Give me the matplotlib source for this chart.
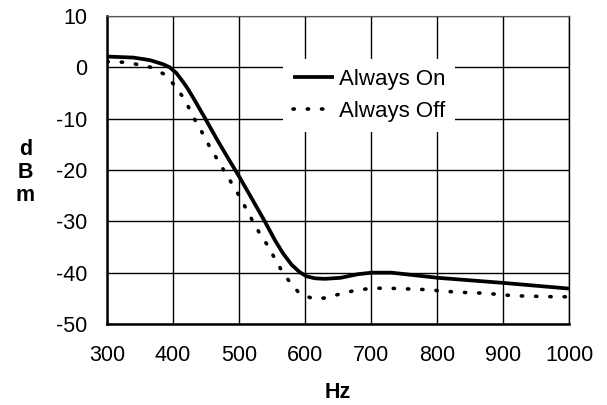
import matplotlib
matplotlib.use('Agg')
import matplotlib.pyplot as plt

# Hz / dBm
hz_on = [300, 340, 365, 385, 395, 405, 415, 422, 430, 448, 466, 482, 498,
         516, 539, 555, 567, 580, 592, 602, 615, 630, 654, 680, 701, 731,
         801, 901, 1000]
db_on = [2.1, 1.9, 1.4, 0.6, 0, -1.1, -2.8, -4.1, -5.8, -9.8, -13.9, -17.4,
         -20.8, -24.8, -30, -33.8, -36.3, -38.5, -39.9, -40.7, -41.1, -41.2,
         -41, -40.3, -40, -40, -41, -42, -43.1]

hz_off = [300, 325, 345, 367, 386, 401, 414, 425, 435, 446, 456, 467, 478,
          490, 501, 511, 521, 532, 544, 554, 565, 578, 592, 613, 633, 654,
          678, 698, 719, 742, 783, 830, 872, 916, 981, 1000]
db_off = [1.1, 1.0, 0.6, 0, -1.3, -3.3, -5.6, -8.1, -10.7, -13.1, -15.6,
          -17.9, -20.3, -22.8, -25.2, -27.6, -30, -32.5, -34.8, -37.2, -39.7,
          -42, -44.1, -45.1, -44.9, -44.1, -43.4, -43.1, -43, -43.1, -43.3,
          -43.8, -44, -44.5, -44.7, -44.7]

x_ticks = [300, 400, 500, 600, 700, 800, 900, 1000]
y_ticks = [10, 0, -10, -20, -30, -40, -50]

plt.rcParams['font.family'] = ['Liberation Sans', 'DejaVu Sans']
plt.rcParams['axes.unicode_minus'] = False

fig = plt.figure(figsize=(6.07, 4.05), dpi=100)
ax = fig.add_axes([0.1763, 0.2, 0.7611, 0.7605])

ax.plot(hz_on, db_on, color='black', lw=2.7, label='Always On',
        solid_capstyle='butt', solid_joinstyle='round')
ax.plot(hz_off, db_off, color='black', lw=2.6, linestyle=(0, (0.35, 3.6)),
        dash_capstyle='round', label='Always Off')

ax.set_xlim(300, 1000)
ax.set_ylim(-50, 10)
ax.set_xticks(x_ticks)
ax.set_yticks(y_ticks)
ax.tick_params(axis='x', length=0, labelsize=15.5, pad=15)
ax.tick_params(axis='y', length=0, labelsize=15.5, pad=14)
ax.grid(True, color='black', lw=1.0)
ax.set_axisbelow(True)

for side in ['left', 'bottom']:
    ax.spines[side].set_linewidth(1.8)
ax.spines['right'].set_linewidth(1.0)
ax.spines['top'].set_linewidth(0.8)
ax.spines['top'].set_color('#555555')

leg = ax.legend(loc='upper left', bbox_to_anchor=(0.381, 0.862),
                fontsize=16, frameon=True, fancybox=False, framealpha=1,
                facecolor='white', edgecolor='none', handlelength=1.85,
                handletextpad=0.2, labelspacing=0.5, borderpad=0.45,
                borderaxespad=0)
leg.get_frame().set_linewidth(0)

# axis titles
fig.text(0.557, 0.032, 'Hz', fontsize=15.5, fontweight='bold',
         ha='center', va='center')
fig.text(0.042, 0.575, 'd\nB\nm', fontsize=15.5, fontweight='bold',
         ha='center', va='center', linespacing=1.12)

fig.savefig('out.png', dpi=100)
